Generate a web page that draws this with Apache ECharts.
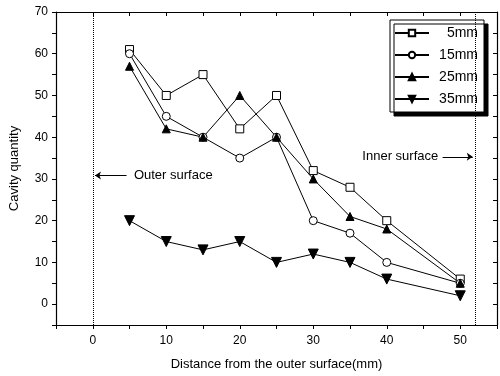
<!DOCTYPE html>
<html>
<head>
<meta charset="utf-8">
<script src="https://cdn.jsdelivr.net/npm/echarts@6/dist/echarts.min.js"></script>
<style>
  html, body { margin: 0; padding: 0; background: #fff; }
  #chart { width: 500px; height: 376px; }
</style>
</head>
<body>
<div id="chart"></div>
<script>
// distances (mm) where cavities were counted
const distances = [5, 10, 15, 20, 25, 30, 35, 40, 50];
const seriesNames = ['5mm', '15mm', '25mm', '35mm'];
const cavity5 = [61, 50, 55, 42, 50, 32, 28, 20, 6];
const cavity15 = [60, 45, 40, 35, 40, 20, 17, 10, 5];
const cavity25 = [57, 42, 40, 50, 40, 30, 21, 18, 5];
const cavity35 = [20, 15, 13, 15, 10, 12, 10, 6, 2];
const xTicks = [0, 10, 20, 30, 40, 50];
const yTicks = [0, 10, 20, 30, 40, 50, 60, 70];

const FONT = 'Liberation Sans, Arial, sans-serif';
const downTri = 'path://M0,0 L10,0 L5,9 Z';

function pairs(vals) {
  return distances.map((d, i) => [d, vals[i]]);
}

function mkSeries(name, vals, symbol, fill) {
  return {
    name: name,
    type: 'line',
    data: pairs(vals),
    symbol: symbol,
    symbolSize: symbol === downTri ? 10 : 8,
    showSymbol: true,
    lineStyle: {color: '#000', width: 1},
    itemStyle: {color: fill, borderColor: '#000', borderWidth: 1},
    emphasis: {disabled: true},
    z: 3
  };
}

const chart = echarts.init(document.getElementById('chart'));

const dotted = {type: 'dotted', color: '#000', width: 1};
const solid = {type: 'solid', color: '#000', width: 1};

const series = [
  mkSeries(seriesNames[0], cavity5, 'rect', '#fff'),
  mkSeries(seriesNames[1], cavity15, 'circle', '#fff'),
  mkSeries(seriesNames[2], cavity25, 'triangle', '#000'),
  mkSeries(seriesNames[3], cavity35, downTri, '#000'),
  {
    // surface markers and labels
    type: 'line',
    data: [],
    silent: true,
    markLine: {
      silent: true,
      animation: false,
      symbol: 'none',
      label: {show: false},
      data: [
        [{coord: [0, -5], lineStyle: dotted}, {coord: [0, 70]}],
        [{coord: [52, -5], lineStyle: dotted}, {coord: [52, 70]}],
        [{coord: [4.6, 30.8], symbol: 'none', lineStyle: solid},
         {coord: [0.3, 30.8], symbol: 'arrow', symbolSize: 6}],
        [{coord: [47.6, 35.3], symbol: 'none', lineStyle: solid},
         {coord: [51.7, 35.3], symbol: 'arrow', symbolSize: 6}]
      ]
    },
    markPoint: {
      silent: true,
      animation: false,
      symbol: 'circle',
      symbolSize: 0,
      label: {show: true, color: '#000', fontFamily: FONT, fontSize: 13},
      data: [
        {coord: [5.6, 30.8], label: {formatter: 'Outer surface', position: 'right', distance: 0}},
        {coord: [47.0, 35.3], label: {formatter: 'Inner surface', position: 'left', distance: 0}}
      ]
    }
  }
];

chart.setOption({
  animation: false,
  backgroundColor: '#fff',
  textStyle: {fontFamily: FONT, color: '#000'},
  grid: {left: 53, right: 3, top: 12, bottom: 51},
  legend: {
    orient: 'vertical',
    right: 16,
    top: 20,
    data: seriesNames,
    itemWidth: 34,
    itemHeight: 8,
    itemGap: 8,
    padding: [6, 6, 6, 4],
    backgroundColor: '#fff',
    borderColor: '#000',
    borderWidth: 1,
    borderRadius: 0,
    shadowColor: '#000',
    shadowBlur: 0,
    shadowOffsetX: 4,
    shadowOffsetY: 4,
    formatter: name => '{a|' + name + '}',
    textStyle: {
      fontFamily: FONT,
      color: '#000',
      fontSize: 14,
      rich: {a: {width: 44, align: 'right', fontSize: 14, fontFamily: FONT, color: '#000'}}
    }
  },
  xAxis: [{
    type: 'value',
    min: -5,
    max: 55,
    interval: 5,
    name: 'Distance from the outer surface(mm)',
    nameLocation: 'middle',
    nameGap: 33,
    nameTextStyle: {fontSize: 13, color: '#000', fontFamily: FONT},
    axisLine: {onZero: false, lineStyle: {color: '#000', width: 1.2}},
    axisTick: {show: true, length: 4, inside: false, lineStyle: {color: '#000'}},
    axisLabel: {
      color: '#000', fontSize: 12, margin: 10, fontFamily: FONT,
      formatter: v => xTicks.includes(v) ? String(v) : ''
    },
    splitLine: {show: false}
  }, {
    type: 'value',
    position: 'top',
    min: -5,
    max: 55,
    interval: 5,
    axisLine: {onZero: false, lineStyle: {color: '#000', width: 1.2}},
    axisTick: {show: true, inside: true, length: 4, lineStyle: {color: '#000'}},
    axisLabel: {show: false},
    splitLine: {show: false}
  }],
  yAxis: [{
    type: 'value',
    min: -5,
    max: 70,
    interval: 5,
    name: 'Cavity quantity',
    nameLocation: 'middle',
    nameGap: 35,
    nameTextStyle: {fontSize: 13, color: '#000', fontFamily: FONT},
    axisLine: {show: true, onZero: false, lineStyle: {color: '#000', width: 1.2}},
    axisTick: {show: true, length: 4, inside: false, lineStyle: {color: '#000'}},
    axisLabel: {
      color: '#000', fontSize: 12, margin: 8, fontFamily: FONT,
      formatter: v => yTicks.includes(v) ? String(v) : ''
    },
    splitLine: {show: false}
  }, {
    type: 'value',
    position: 'right',
    min: -5,
    max: 70,
    interval: 5,
    axisLine: {show: true, onZero: false, lineStyle: {color: '#000', width: 1.2}},
    axisTick: {show: true, inside: true, length: 4, lineStyle: {color: '#000'}},
    axisLabel: {show: false},
    splitLine: {show: false}
  }],
  series: series
});
</script>
</body>
</html>
